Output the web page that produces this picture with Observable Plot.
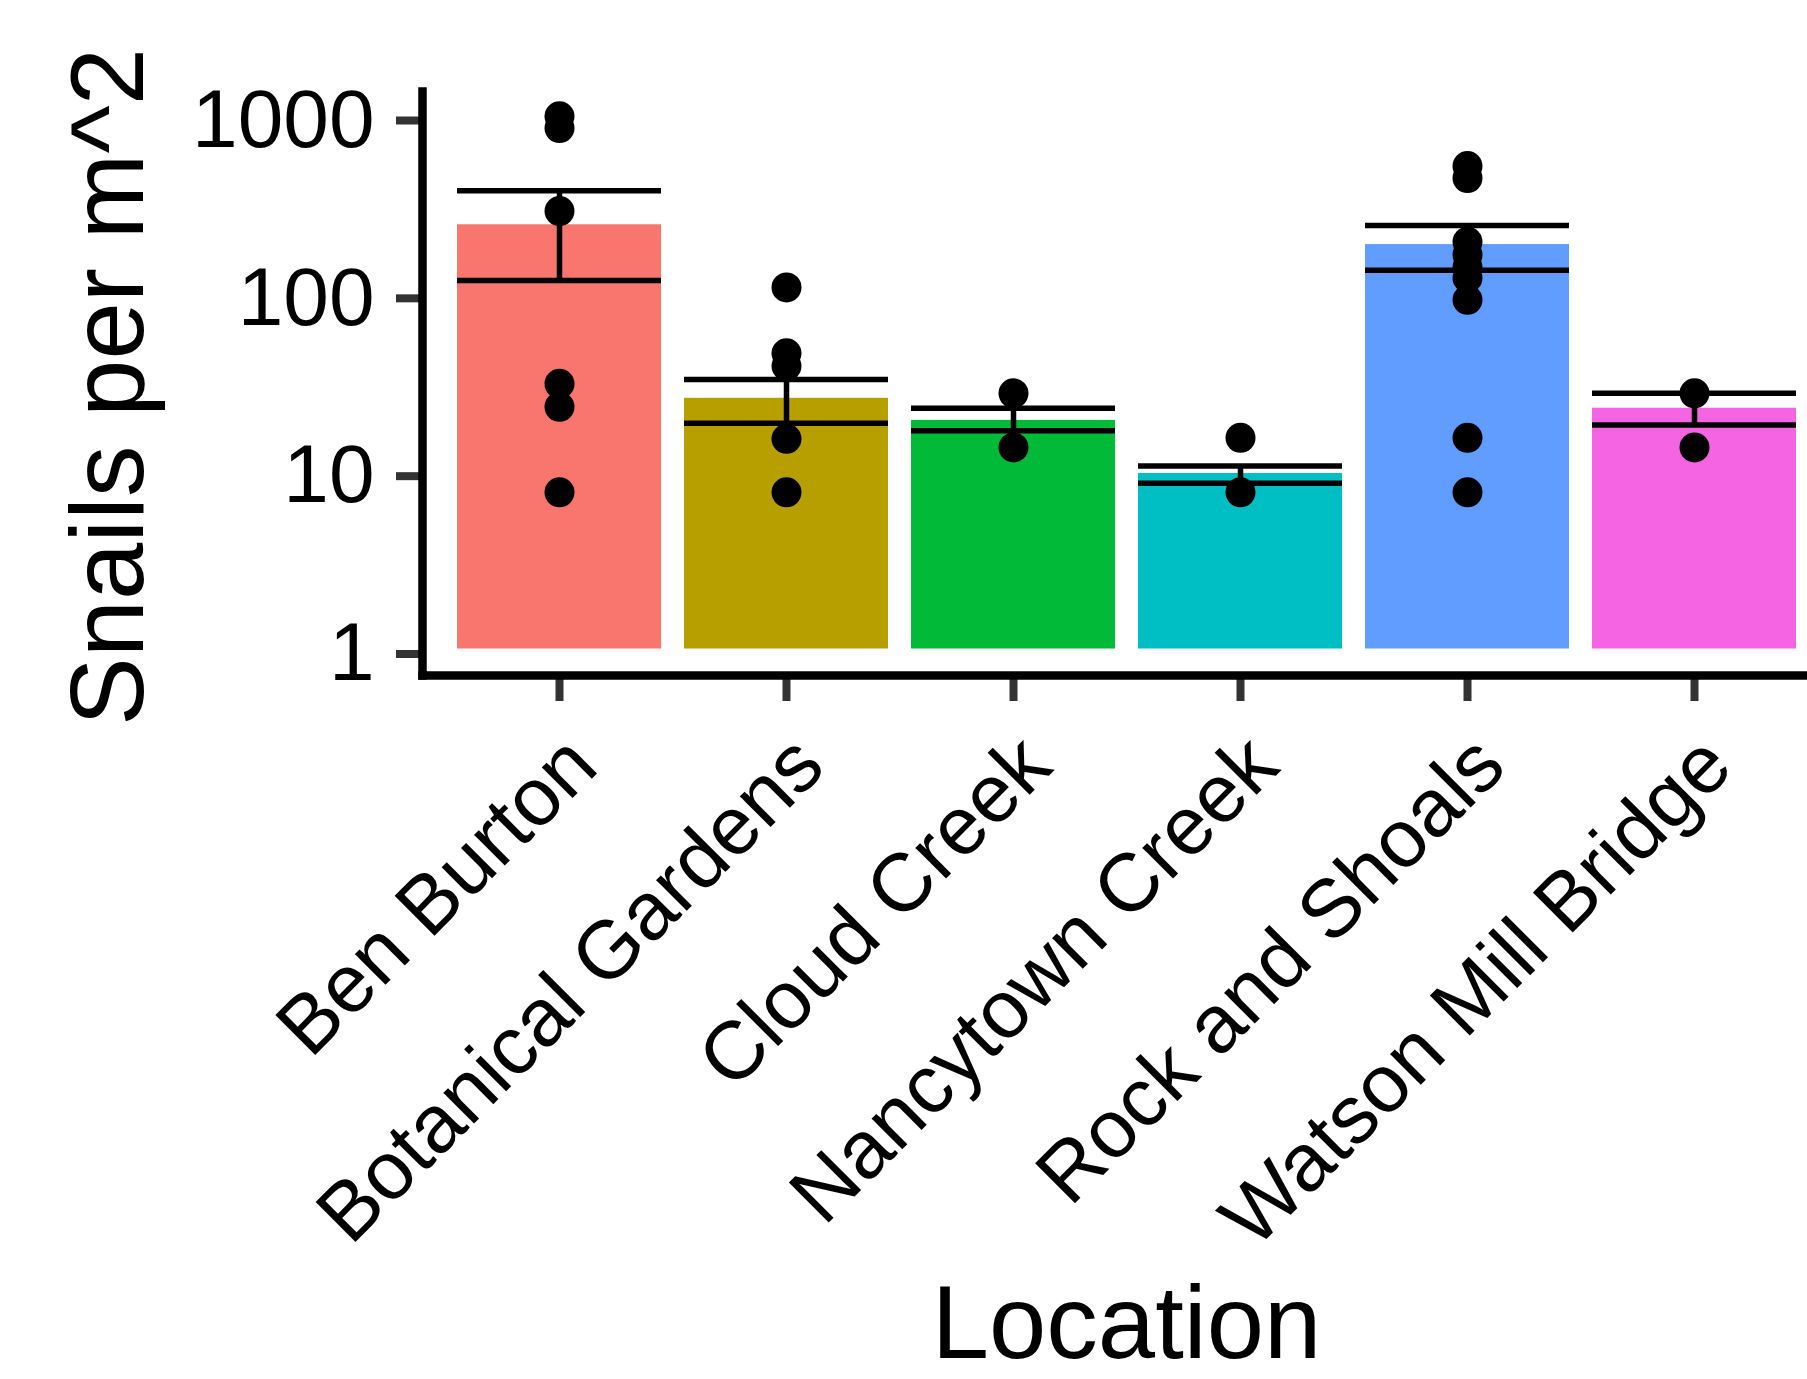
<!DOCTYPE html>
<html>
<head>
<meta charset="utf-8">
<script src="https://cdn.jsdelivr.net/npm/d3@7"></script>
<script src="https://cdn.jsdelivr.net/npm/@observablehq/plot@0.6"></script>
<style>
  html, body { margin: 0; padding: 0; background: #fff; overflow: hidden; }
  #chart svg { display: block; }
</style>
</head>
<body>
<div id="chart"></div>
<script>
// ---- data ----
const locations = ["Ben Burton", "Botanical Gardens", "Cloud Creek", "Nancytown Creek", "Rock and Shoals", "Watson Mill Bridge"];
const meanDensity = [243, 25.7, 19.3, 9.7, 188, 22.6];
const seLower = [118, 18.6, 16.9, 8.55, 135, 18.2];
const seUpper = [378, 32.8, 22.6, 10.7, 241, 27.4];
const barColors = ["#F8766D", "#B79F00", "#00BA38", "#00BFC4", "#619CFF", "#F564E3"];

const pointLocation = [
  "Ben Burton", "Ben Burton", "Ben Burton", "Ben Burton", "Ben Burton", "Ben Burton",
  "Botanical Gardens", "Botanical Gardens", "Botanical Gardens", "Botanical Gardens", "Botanical Gardens",
  "Cloud Creek", "Cloud Creek",
  "Nancytown Creek", "Nancytown Creek",
  "Rock and Shoals", "Rock and Shoals", "Rock and Shoals", "Rock and Shoals", "Rock and Shoals",
  "Rock and Shoals", "Rock and Shoals", "Rock and Shoals", "Rock and Shoals",
  "Watson Mill Bridge", "Watson Mill Bridge"
];
const pointDensity = [
  990, 850, 290, 31, 23, 7.6,
  108, 46, 39, 15.2, 7.6,
  27.4, 13.6,
  15.4, 7.6,
  520, 445, 195, 165, 140, 122, 92, 15.4, 7.6,
  27.4, 13.6
];
const yTicks = [1, 10, 100, 1000];
const xTitle = "Location";
const yTitle = "Snails per m^2";

// ---- layout ----
const W = 1807, H = 1379;
const panelLeft = 422, panelRight = 1831, panelTop = 91, panelBottom = 675;
const font = "'Liberation Sans', Arial, Helvetica, sans-serif";

const bars = locations.map((loc, i) => ({location: loc, mean: meanDensity[i], lo: seLower[i], hi: seUpper[i]}));
const points = pointLocation.map((loc, i) => ({location: loc, density: pointDensity[i]}));

const chart = Plot.plot({
  width: W,
  height: H,
  marginLeft: panelLeft,
  marginRight: 0,
  marginTop: panelTop,
  marginBottom: H - panelBottom,
  style: {fontFamily: font, background: "#fff", overflow: "hidden"},
  x: {type: "band", domain: locations, range: [panelLeft, panelRight], paddingInner: 0.1, paddingOuter: 0.15, axis: null},
  y: {type: "log", domain: [Math.pow(10, -0.149), Math.pow(10, 3.135)], axis: null},
  color: {domain: locations, range: barColors},
  marks: [
    Plot.barY(bars, {x: "location", y1: 1, y2: "mean", fill: "location"}),
    Plot.ruleX(bars, {x: "location", y1: "lo", y2: "hi", stroke: "#000", strokeWidth: 5.5}),
    Plot.tickY(bars, {x: "location", y: "hi", stroke: "#000", strokeWidth: 5.5}),
    Plot.tickY(bars, {x: "location", y: "lo", stroke: "#000", strokeWidth: 5.5}),
    Plot.dot(points, {x: "location", y: "density", r: 15, fill: "#000", stroke: null}),
    Plot.axisY({ticks: yTicks, tickFormat: d => String(d), tickSize: 26, tickPadding: 22, fontSize: 82,
      stroke: "#333", strokeWidth: 8, fill: "#000", dy: 5, label: null}),
    Plot.axisX({tickSize: 26, tickFormat: () => "", stroke: "#333", strokeWidth: 8, label: null}),
    Plot.frame({anchor: "left", stroke: "#000", strokeWidth: 8.5}),
    Plot.frame({anchor: "bottom", stroke: "#000", strokeWidth: 8.5, strokeLinecap: "square"}),
    Plot.text(locations, {x: d => d, frameAnchor: "bottom", dy: 53, rotate: -45, textAnchor: "end",
      lineAnchor: "top", fontSize: 82, fill: "#000"}),
    Plot.text([xTitle], {frameAnchor: "bottom", dx: 11.5, dy: 1357 - panelBottom, lineAnchor: "bottom", textAnchor: "middle",
      fontSize: 103, fill: "#000"}),
    Plot.text([yTitle], {frameAnchor: "left", dx: 142 - panelLeft, dy: 3.5, rotate: -90, lineAnchor: "bottom",
      textAnchor: "middle", fontSize: 103, fill: "#000"})
  ]
});
document.getElementById("chart").appendChild(chart);
</script>
</body>
</html>
